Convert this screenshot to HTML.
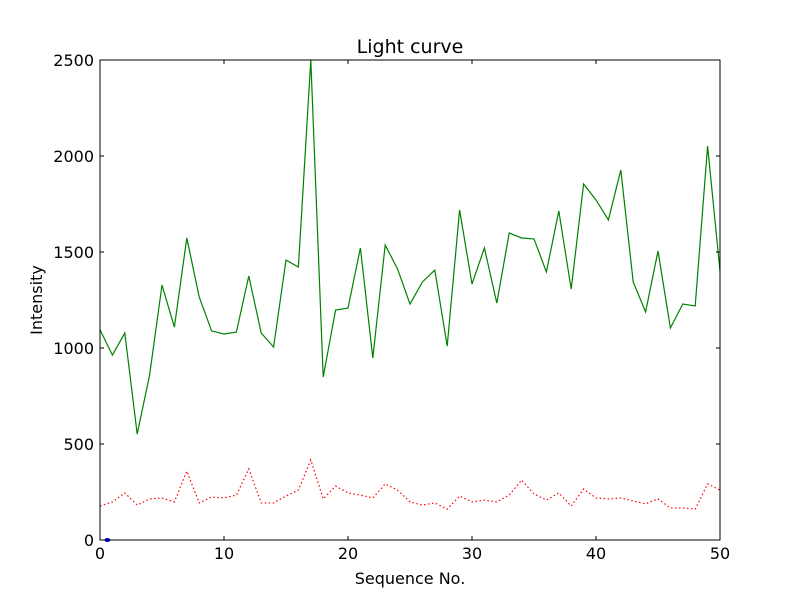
<!DOCTYPE html>
<html><head><meta charset="utf-8"><style>
body{margin:0;background:#fff;}
svg text{font-family:"DejaVu Sans","Liberation Sans",sans-serif;fill:#000;}
</style></head><body>
<svg id="chart" width="800" height="600"></svg>
<script>
const xTicks=[0,10,20,30,40,50];
const yTicks=[0,500,1000,1500,2000,2500];
const totalIntensity=[1095,963,1078,552,859,1328,1109,1573,1266,1089,1073,1083,1375,1078,1005,1458,1422,2500,849,1198,1208,1521,948,1536,1411,1229,1344,1406,1010,1719,1333,1521,1234,1599,1573,1568,1396,1714,1307,1854,1771,1667,1927,1344,1188,1505,1104,1229,1219,2052,1401];
const backgroundIntensity=[177,198,245,182,214,219,198,359,193,224,219,234,370,193,193,229,260,417,214,281,245,234,219,292,260,198,182,193,161,229,198,208,198,234,312,240,208,245,177,266,219,214,219,203,188,214,167,167,161,292,260];
const markerPoint=[0.6,0];

const NS="http://www.w3.org/2000/svg";
const svg=document.getElementById('chart');
const L=100,R=720,T=60,B=540;
const xs=v=>L+(v-0)/(50-0)*(R-L);
const ys=v=>B-(v-0)/(2500-0)*(B-T);
function mk(tag,attrs,parent){const e=document.createElementNS(NS,tag);for(const k in attrs)e.setAttribute(k,attrs[k]);(parent||svg).appendChild(e);return e;}

const frame=mk('rect',{x:L,y:T,width:R-L,height:B-T,fill:'#fff',stroke:'none'});



function series(vals,color,dash,name){
  const pts=vals.map((v,i)=>xs(i)+','+ys(v)).join(' ');
  const p=mk('polyline',{points:pts,fill:'none',stroke:color,'stroke-width':1.2});
  if(dash)p.setAttribute('stroke-dasharray',dash);
  
  
}
series(backgroundIntensity,'#ff0000','1.5,2.5','background-intensity-line');
series(totalIntensity,'#008000',null,'total-intensity-line');

const m=mk('ellipse',{cx:xs(markerPoint[0]),cy:ys(markerPoint[1]),rx:3,ry:2,fill:'#0000ff'});



const border=mk('rect',{x:L,y:T,width:R-L,height:B-T,fill:'none',stroke:'#000','stroke-width':1});



xTicks.forEach(t=>{
  const x=xs(t);
  mk('line',{x1:x,y1:B,x2:x,y2:B-4,stroke:'#000'});
  mk('line',{x1:x,y1:T,x2:x,y2:T+4,stroke:'#000'});
  const tx=mk('text',{x:x,y:B+19,'text-anchor':'middle','font-size':16});
  tx.textContent=t;
  
  
});
yTicks.forEach(t=>{
  const y=ys(t);
  mk('line',{x1:L,y1:y,x2:L+4,y2:y,stroke:'#000'});
  mk('line',{x1:R,y1:y,x2:R-4,y2:y,stroke:'#000'});
  const tx=mk('text',{x:L-6,y:y+6,'text-anchor':'end','font-size':16});
  tx.textContent=t;
  
  
});
const title=mk('text',{x:410,y:53,'text-anchor':'middle','font-size':19});
title.textContent='Light curve';


const xl=mk('text',{x:410,y:584,'text-anchor':'middle','font-size':16});
xl.textContent='Sequence No.';


const yl=mk('text',{x:42,y:300,'text-anchor':'middle','font-size':16,transform:'rotate(-90 42 300)'});
yl.textContent='Intensity';


</script>
</body></html>
